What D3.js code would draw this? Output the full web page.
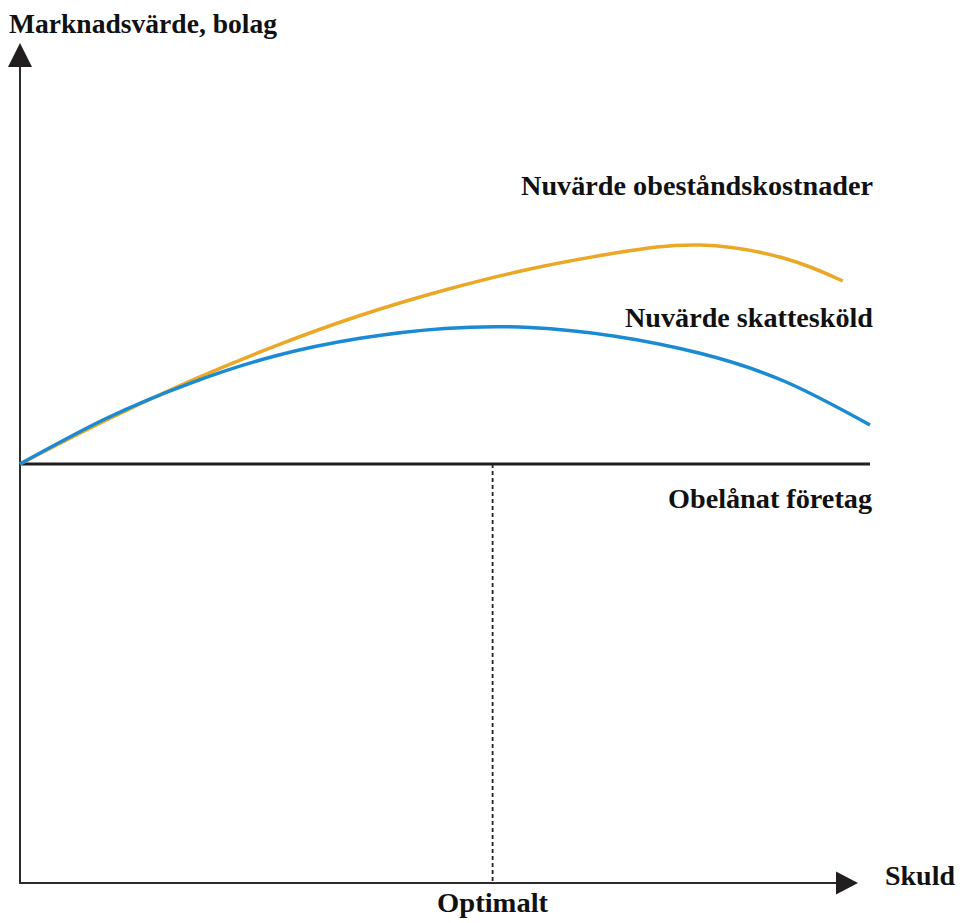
<!DOCTYPE html>
<html lang="sv">
<head>
<meta charset="utf-8">
<script src="https://d3js.org/d3.v7.min.js"></script>
<style>
    body { margin: 0; background: #fff; }
    text { font-family: "Liberation Serif", "DejaVu Serif", serif; font-weight: bold; fill: #111; }
</style>
</head>
<body>
<div id="container"></div>
<script>

    // Skuldnivåer (x) och kurvornas värden
    const debt = [0, 10, 20, 30, 40, 50, 60, 70, 80, 90, 96.8];
    const debtBlue = [0, 10, 20, 30, 40, 50, 60, 70, 80, 90, 100];
    const orangeValues = [0, 14.4, 27.6, 39.3, 49.5, 58.0, 65.0, 70.3, 73.0, 68.5, 61];
    const blueValues = [0, 15, 26.9, 36, 41.9, 45.2, 45.5, 42.6, 36.9, 27.5, 13];
    const optimalDebt = 55.6;

    const labels = {
        yAxis: "Marknadsvärde, bolag",
        xAxis: "Skuld",
        orange: "Nuvärde obeståndskostnader",
        blue: "Nuvärde skattesköld",
        base: "Obelånat företag",
        optimal: "Optimalt"
    };

    const width = 963, height = 923;

    const svg = d3.select("#container")
        .append("svg")
        .attr("width", width)
        .attr("height", height);

    // Skalor
    var x = d3.scaleLinear().domain([0, 100]).range([20, 870]);
    var y = d3.scaleLinear().domain([-140, 140]).range([884, 44]);

    const axisColour = "#2b2b2b";

    // y-axel med pil
    svg.append("line")
        .attr("x1", x(0)).attr("x2", x(0))
        .attr("y1", y(-140) - 1).attr("y2", 62)
        .attr("stroke", axisColour).attr("stroke-width", 2);
    svg.append("path")
        .attr("d", "M" + x(0) + ",43 L" + (x(0) - 12) + ",67 L" + (x(0) + 12) + ",67 Z")
        .attr("fill", "#231f20");

    // x-axel med pil
    svg.append("line")
        .attr("x1", x(0) - 1).attr("x2", 840)
        .attr("y1", 883).attr("y2", 883)
        .attr("stroke", axisColour).attr("stroke-width", 2);
    svg.append("path")
        .attr("d", "M858,883 L836,871.5 L836,894.5 Z")
        .attr("fill", "#231f20");

    // Streckad linje vid optimal skuld
    svg.append("line")
        .attr("x1", x(optimalDebt)).attr("x2", x(optimalDebt))
        .attr("y1", y(0)).attr("y2", 883)
        .attr("stroke", "#222").attr("stroke-width", 1.8)
        .attr("stroke-dasharray", "4,3");

    // Obelånat företag
    svg.append("line")
        .attr("x1", x(0)).attr("x2", x(100))
        .attr("y1", y(0)).attr("y2", y(0))
        .attr("stroke", "#231f20").attr("stroke-width", 3);

    const line = d3.line()
        .x(d => x(d[0]))
        .y(d => y(d[1]))
        .curve(d3.curveNatural);

    svg.append("path")
        .datum(debt.map((d, i) => [d, orangeValues[i]]))
        .attr("d", line)
        .attr("fill", "none")
        .attr("stroke", "#EBA726")
        .attr("stroke-width", 3.5);

    svg.append("path")
        .datum(debtBlue.map((d, i) => [d, blueValues[i]]))
        .attr("d", line)
        .attr("fill", "none")
        .attr("stroke", "#1A8BD2")
        .attr("stroke-width", 3.5);

    // Texter
    function label(txt, px, py, anchor, len) {
        svg.append("text")
            .attr("x", px).attr("y", py)
            .attr("text-anchor", anchor)
            .attr("font-size", 28)
            .attr("textLength", len)
            .attr("lengthAdjust", "spacingAndGlyphs")
            .text(txt);
    }

    label(labels.yAxis, 9, 33, "start", 268);
    label(labels.orange, 873, 195, "end", 352);
    label(labels.blue, 873, 327, "end", 248);
    label(labels.base, 872, 508, "end", 204);
    label(labels.optimal, x(optimalDebt), 912, "middle", 111);
    label(labels.xAxis, 885, 885, "start", 70);

</script>
</body>
</html>
